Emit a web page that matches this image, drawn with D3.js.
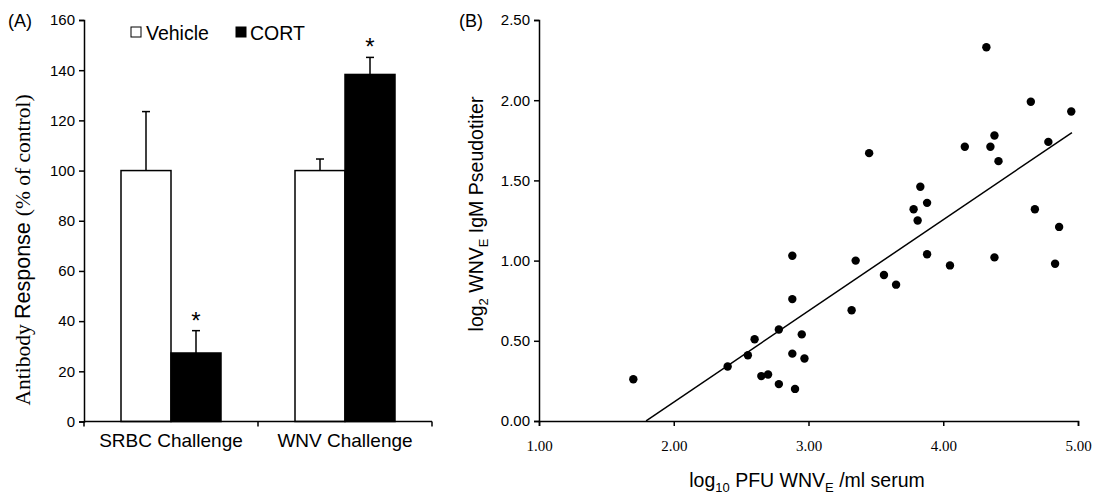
<!DOCTYPE html>
<html>
<head>
<meta charset="utf-8">
<script src="https://cdn.jsdelivr.net/npm/d3@7"></script>
<style>
  html, body { margin: 0; padding: 0; background: #fff; }
  svg { display: block; }
  .sans { font-family: "Liberation Sans", Arial, sans-serif; }
  .serif { font-family: "Liberation Serif", "Times New Roman", serif; }
</style>
</head>
<body>
<svg id="chart" width="1097" height="495"></svg>
<script>
// ---- panel A data
const groups = ["SRBC Challenge", "WNV Challenge"];
const series = ["Vehicle", "CORT"];
const vehicleMean = [100, 100];
const vehicleErr = [23.5, 4.6];
const cortMean = [27.3, 138.3];
const cortErr = [8.9, 6.8];
const yTicksA = [0, 20, 40, 60, 80, 100, 120, 140, 160];

// ---- panel B data (log10 PFU vs log2 pseudotiter)
const pfu = [1.70, 2.40, 2.55, 2.60, 2.65, 2.70, 2.78, 2.78, 2.88, 2.88, 2.88, 2.90,
             2.95, 2.97, 3.32, 3.35, 3.45, 3.56, 3.65, 3.78, 3.81, 3.83, 3.88, 3.88,
             4.05, 4.16, 4.32, 4.35, 4.38, 4.41, 4.38, 4.65, 4.68, 4.78, 4.83, 4.86, 4.95];
const titer = [0.26, 0.34, 0.41, 0.51, 0.28, 0.29, 0.57, 0.23, 1.03, 0.76, 0.42, 0.20,
               0.54, 0.39, 0.69, 1.00, 1.67, 0.91, 0.85, 1.32, 1.25, 1.46, 1.36, 1.04,
               0.97, 1.71, 2.33, 1.71, 1.78, 1.62, 1.02, 1.99, 1.32, 1.74, 0.98, 1.21, 1.93];
const trendSlope = 0.569;
const trendIntercept = -1.021;
const trendX = [1.795, 4.955];
const xTicksB = [1, 2, 3, 4, 5];
const yTicksB = [0, 0.5, 1, 1.5, 2, 2.5];

const svg = d3.select("#chart");

// ================= Panel A =================
const a = svg.append("g");
const yA = d3.scaleLinear().domain([0, 160]).range([421.5, 20]);
const xA = d3.scaleBand().domain(groups).range([84, 432]).paddingInner(0).paddingOuter(0);
const xSub = d3.scaleBand().domain(series).range([0, xA.bandwidth()]).paddingInner(0).paddingOuter(0.74);

const barsData = [];
groups.forEach((g, i) => {
  barsData.push({ g: g, s: "Vehicle", v: vehicleMean[i], e: vehicleErr[i] });
  barsData.push({ g: g, s: "CORT", v: cortMean[i], e: cortErr[i] });
});

// error bars (upper only)
barsData.forEach(d => {
  const cx = xA(d.g) + xSub(d.s) + xSub.bandwidth() / 2;
  a.append("line").attr("x1", cx).attr("x2", cx)
    .attr("y1", yA(d.v)).attr("y2", yA(d.v + d.e))
    .attr("stroke", "#000").attr("stroke-width", 1.5);
  a.append("line").attr("x1", cx - 4).attr("x2", cx + 4)
    .attr("y1", yA(d.v + d.e)).attr("y2", yA(d.v + d.e))
    .attr("stroke", "#000").attr("stroke-width", 1.5);
  if (d.s === "CORT") {
    a.append("text").attr("class", "sans")
      .attr("x", cx).attr("y", yA(d.v + d.e) - 2)
      .attr("text-anchor", "middle").attr("font-size", 24)
      .text("*");
  }
});

a.selectAll("rect.bar").data(barsData).join("rect")
  .attr("class", "bar")
  .attr("x", d => xA(d.g) + xSub(d.s))
  .attr("y", d => yA(d.v))
  .attr("width", xSub.bandwidth())
  .attr("height", d => yA(0) - yA(d.v))
  .attr("fill", d => d.s === "CORT" ? "#000" : "#fff")
  .attr("stroke", "#000").attr("stroke-width", 1.5);

// y axis
const yAxisA = a.append("g").attr("transform", "translate(84,0)")
  .call(d3.axisLeft(yA).tickValues(yTicksA).tickSize(5).tickPadding(4).tickFormat(d3.format("d")));
yAxisA.selectAll("text").attr("class", "sans").attr("font-size", 15).attr("fill", "#000");
yAxisA.select(".domain").attr("stroke-width", 1.5);
yAxisA.selectAll(".tick line").attr("stroke-width", 1.5);

// x axis with ticks at band edges
const xAxisA = a.append("g");
xAxisA.append("line").attr("x1", 84).attr("x2", 432).attr("y1", yA(0)).attr("y2", yA(0))
  .attr("stroke", "#000").attr("stroke-width", 1.5);
[84, xA(groups[1]), 432].forEach(px => {
  xAxisA.append("line").attr("x1", px).attr("x2", px).attr("y1", yA(0)).attr("y2", yA(0) + 5)
    .attr("stroke", "#000").attr("stroke-width", 1.5);
});
xAxisA.selectAll("text.cat").data(groups).join("text")
  .attr("class", "sans cat")
  .attr("x", d => xA(d) + xA.bandwidth() / 2)
  .attr("y", 447)
  .attr("text-anchor", "middle").attr("font-size", 19)
  .text(d => d);

// y label (mixed fonts)
const ylA = a.append("text").attr("transform", "translate(30,250) rotate(-90)")
  .attr("text-anchor", "middle").attr("font-size", 21.5);
ylA.append("tspan").attr("class", "serif").text("Antibody ");
ylA.append("tspan").attr("class", "sans").text("Response ");
ylA.append("tspan").attr("class", "serif").text("(% of control)");

// panel label + legend
a.append("text").attr("class", "sans").attr("x", 8).attr("y", 27).attr("font-size", 18).text("(A)");
const leg = a.append("g");
series.forEach((s, i) => {
  const lx = [131, 236][i];
  leg.append("rect").attr("x", lx).attr("y", 27).attr("width", 10).attr("height", 10)
    .attr("fill", s === "CORT" ? "#000" : "#fff").attr("stroke", "#000").attr("stroke-width", 1);
  leg.append("text").attr("class", "sans").attr("x", lx + [15, 14][i]).attr("y", 40)
    .attr("font-size", 19.5).text(s);
});

// ================= Panel B =================
const b = svg.append("g");
const xB = d3.scaleLinear().domain([1, 5]).range([539, 1078]);
const yB = d3.scaleLinear().domain([0, 2.5]).range([421, 20]);

const yAxisB = b.append("g").attr("transform", "translate(539,0)")
  .call(d3.axisLeft(yB).tickValues(yTicksB).tickSize(5).tickPadding(4).tickFormat(d3.format(".2f")));
yAxisB.selectAll("text").attr("class", "sans").attr("font-size", 15).attr("fill", "#000");
yAxisB.select(".domain").attr("stroke-width", 1.5);
yAxisB.selectAll(".tick line").attr("stroke-width", 1.5);

const xAxisB = b.append("g").attr("transform", "translate(0,421)")
  .call(d3.axisBottom(xB).tickValues(xTicksB).tickSize(5).tickPadding(14).tickFormat(d3.format(".2f")));
xAxisB.selectAll("text").attr("class", "serif").attr("font-size", 15).attr("fill", "#000");
xAxisB.select(".domain").attr("stroke-width", 1.5);
xAxisB.selectAll(".tick line").attr("stroke-width", 1.5);

// trend line
const line = d3.line().x(d => xB(d)).y(d => yB(trendSlope * d + trendIntercept));
b.append("path").datum(trendX).attr("d", line)
  .attr("fill", "none").attr("stroke", "#000").attr("stroke-width", 1.5);

// points
b.selectAll("circle").data(pfu).join("circle")
  .attr("cx", d => xB(d))
  .attr("cy", (d, i) => yB(titer[i]))
  .attr("r", 4.2).attr("fill", "#000");

// labels
b.append("text").attr("class", "sans").attr("x", 459).attr("y", 27).attr("font-size", 18).text("(B)");

const ylB = b.append("text").attr("class", "sans")
  .attr("transform", "translate(483,214) rotate(-90)")
  .attr("text-anchor", "middle").attr("font-size", 19.5);
ylB.append("tspan").text("log");
ylB.append("tspan").attr("font-size", 13).attr("dy", 5).text("2");
ylB.append("tspan").attr("dy", -5).text(" WNV");
ylB.append("tspan").attr("font-size", 13).attr("dy", 5).text("E");
ylB.append("tspan").attr("dy", -5).text(" IgM Pseudotiter");

const xlB = b.append("text").attr("class", "sans")
  .attr("x", 807).attr("y", 487)
  .attr("text-anchor", "middle").attr("font-size", 19.5);
xlB.append("tspan").text("log");
xlB.append("tspan").attr("font-size", 13).attr("dy", 5).text("10");
xlB.append("tspan").attr("dy", -5).text(" PFU WNV");
xlB.append("tspan").attr("font-size", 13).attr("dy", 5).text("E");
xlB.append("tspan").attr("dy", -5).text(" /ml serum");
</script>
</body>
</html>
